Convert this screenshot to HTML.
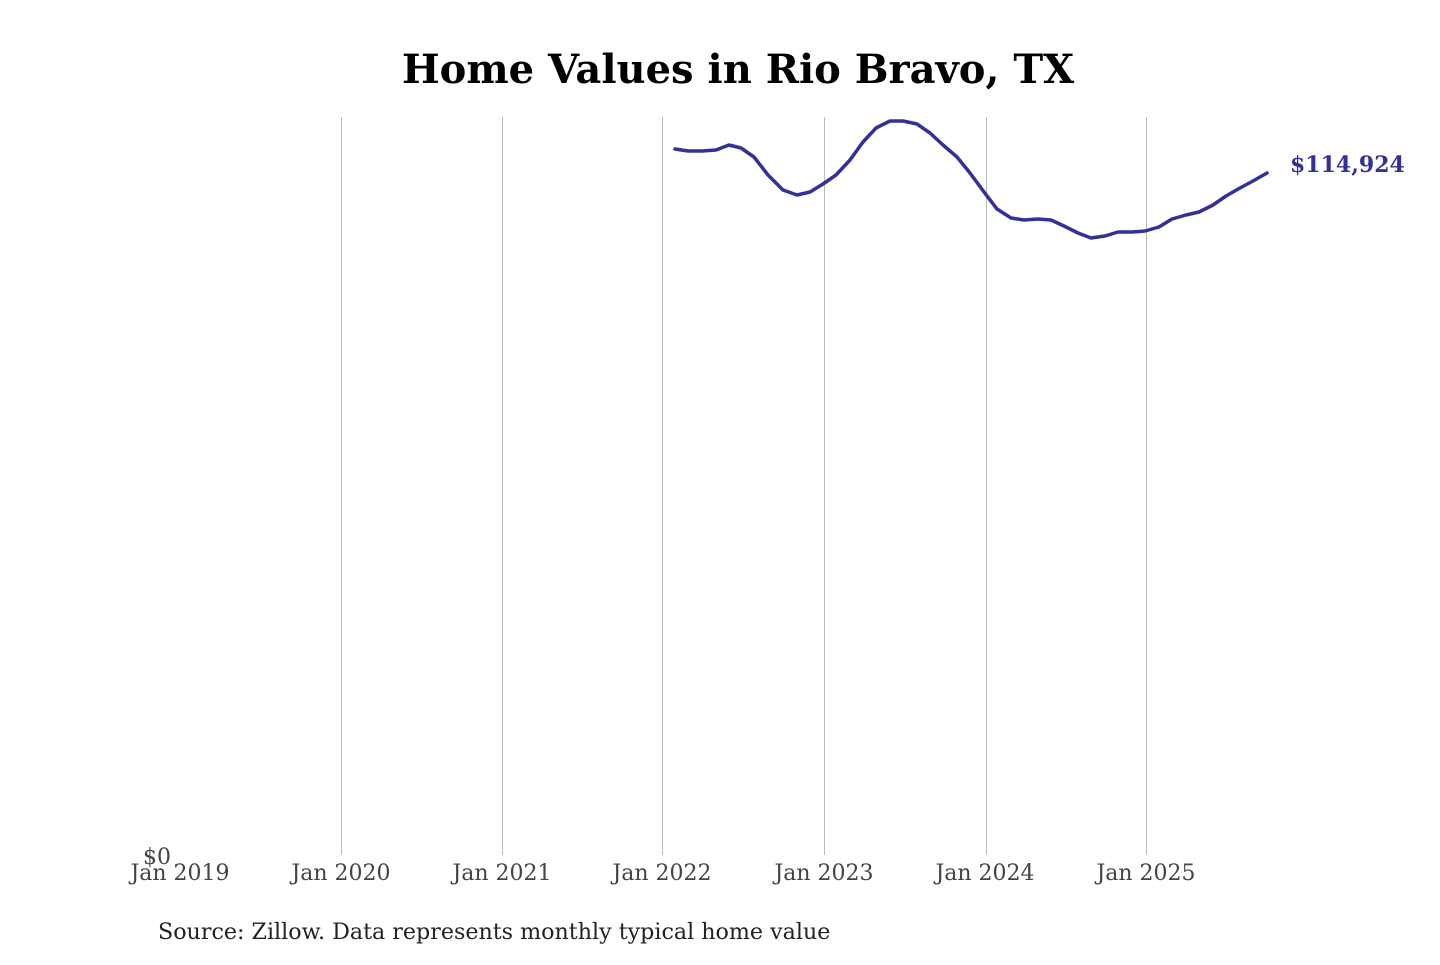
<!DOCTYPE html>
<html><head><style>
body{margin:0;width:1440px;height:960px;background:#fff;overflow:hidden}
svg text{font-family:"DejaVu Serif","Liberation Serif",serif}
</style></head><body>
<svg width="1440" height="960" xmlns="http://www.w3.org/2000/svg">
<text x="738" y="83" text-anchor="middle" font-size="40" font-weight="bold" fill="#000">Home Values in Rio Bravo, TX</text>
<g stroke="#bbb" stroke-width="1">
<line x1="341.5" y1="117" x2="341.5" y2="855"/>
<line x1="502.5" y1="117" x2="502.5" y2="855"/>
<line x1="662.5" y1="117" x2="662.5" y2="855"/>
<line x1="824.5" y1="117" x2="824.5" y2="855"/>
<line x1="986.5" y1="117" x2="986.5" y2="855"/>
<line x1="1146.5" y1="117" x2="1146.5" y2="855"/>
</g>
<polyline fill="none" stroke="#33309a" stroke-width="3.5" stroke-linejoin="round" stroke-linecap="round" points="675,149 688,151 702,151 716,150 729,145 741,148 754,157 768,175 783,190 797,195 810,192 823,184 836,175 850,160 863,142 876,128 890,121 903,121 917,124 930,133 943,145 957,157 970,173 984,192 997,209 1011,218 1024,220 1038,219 1051,220 1064,226 1078,233 1091,238 1105,236 1118,232 1132,232 1145,231 1159,227 1172,219 1186,215 1199,212 1213,205 1226,196 1240,188 1253,181 1267,173"/>
<text x="1290" y="172" font-size="22" font-weight="bold" fill="#33309a">$114,924</text>
<g font-size="22" fill="#444" text-anchor="middle">
<text x="157" y="864">$0</text>
<text x="180" y="880">Jan 2019</text>
<text x="341" y="880">Jan 2020</text>
<text x="502" y="880">Jan 2021</text>
<text x="662" y="880">Jan 2022</text>
<text x="824" y="880">Jan 2023</text>
<text x="985" y="880">Jan 2024</text>
<text x="1146" y="880">Jan 2025</text>
</g>
<text x="158" y="939" font-size="22.2" fill="#222">Source: Zillow. Data represents monthly typical home value</text>
</svg>
</body></html>
